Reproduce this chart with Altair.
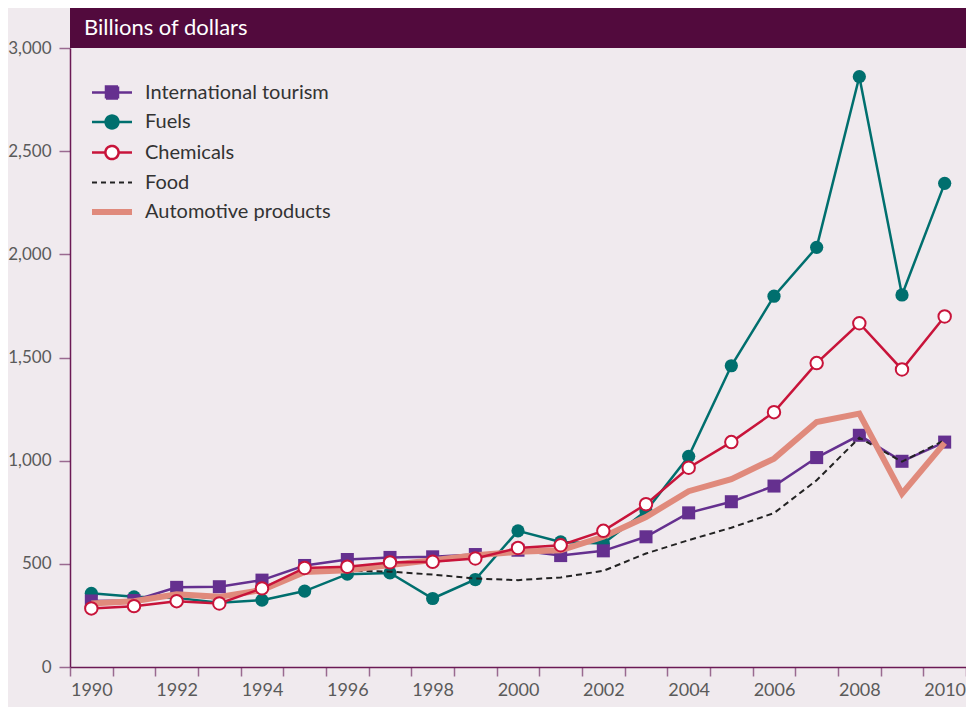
import altair as alt
import pandas as pd

years = list(range(1990, 2011))
series_names = ["International tourism", "Fuels", "Chemicals", "Food", "Automotive products"]

tourism = [320, 322, 386, 389, 421, 492, 521, 531, 534, 545, 566, 540, 563, 631, 747, 801, 877, 1015, 1123, 997, 1090]
fuels = [357, 340, 335, 312, 324, 368, 450, 456, 332, 424, 660, 606, 599, 756, 1021, 1460, 1797, 2034, 2861, 1803, 2344]
chemicals = [284, 295, 319, 308, 381, 480, 486, 507, 510, 526, 577, 590, 660, 789, 966, 1090, 1235, 1473, 1666, 1442, 1699]
food = [310, 315, 350, 330, 385, 455, 468, 462, 448, 429, 421, 434, 466, 550, 615, 675, 746, 905, 1111, 995, 1100]
automotive = [308, 319, 352, 340, 373, 461, 469, 494, 518, 542, 558, 566, 631, 727, 852, 910, 1010, 1187, 1228, 840, 1086]

y_ticks = [0, 500, 1000, 1500, 2000, 2500, 3000]

PURPLE = "#65308f"
TEAL = "#006f6e"
RED = "#c8143a"
FOOD = "#222222"
SALMON = "#e08a7c"
BG = "#f0eaee"
BAR = "#520a3d"
AXIS = "#6b1a55"
TICK = "#9a6a90"

rows = []
for name, vals in zip(series_names, [tourism, fuels, chemicals, food, automotive]):
    for yr, v in zip(years, vals):
        rows.append({"year": yr, "series": name, "value": v})
df = pd.DataFrame(rows)

W, H = 896, 619

x_enc = alt.X(
    "year:O",
    scale=alt.Scale(paddingInner=0, paddingOuter=0),
    axis=alt.Axis(
        title=None, tickBand="extent", labelAngle=0, labelOverlap=False,
        labelExpr="datum.value % 2 == 0 ? datum.label : ''",
        domainColor=AXIS, domainWidth=1.5, tickColor=TICK, tickWidth=1.5, tickSize=9,
        labelFont="Lato", labelFontSize=18, labelColor="#5a5a5a", labelPadding=5,
    ),
)
y_enc = alt.Y(
    "value:Q",
    scale=alt.Scale(domain=[0, 3000], nice=False),
    axis=alt.Axis(
        title=None, values=y_ticks, format=",d", grid=False,
        domainColor=AXIS, domainWidth=1.5, tickColor=TICK, tickWidth=1.5, tickSize=11,
        labelFont="Lato", labelFontSize=17, labelColor="#5a5a5a", labelPadding=8,
    ),
)

base = alt.Chart(df).encode(x=x_enc, y=y_enc)

def sel(name):
    return base.transform_filter(alt.datum.series == name)

teal_line = sel("Fuels").mark_line(color=TEAL, strokeWidth=2.5)
teal_pts = sel("Fuels").mark_circle(color=TEAL, size=175, opacity=1)
purple_line = sel("International tourism").mark_line(color=PURPLE, strokeWidth=2.5)
purple_pts = sel("International tourism").mark_square(color=PURPLE, size=170, opacity=1)
food_line = sel("Food").mark_line(color=FOOD, strokeWidth=2, strokeDash=[6, 4])
auto_line = sel("Automotive products").mark_line(color=SALMON, strokeWidth=6)
red_line = sel("Chemicals").mark_line(color=RED, strokeWidth=2.5)
red_pts = sel("Chemicals").mark_point(shape="circle", filled=True, fill="white", stroke=RED,
                                     strokeWidth=2, size=155, opacity=1)

# legend-only layer (no marks drawn, legend from explicit scale domains)
shapes = [
    "M-2,0H2M-0.6,-0.6H0.6V0.6H-0.6Z",
    "M-2,0H2M0.64,0A0.64,0.64 0 1,1 -0.64,0A0.64,0.64 0 1,1 0.64,0Z",
    "M-2,0H-0.66M0.66,0H2M0.66,0A0.66,0.66 0 1,1 -0.66,0A0.66,0.66 0 1,1 0.66,0Z",
    "M-2,0H2",
    "M-2,0H2",
]
leg = alt.Legend(
    title=None, orient="none", legendX=29, legendY=33, direction="vertical",
    labelFont="Lato", labelFontSize=20, labelColor="#333333", labelOffset=20,
    labelLimit=400, symbolSize=400, symbolOpacity=1, rowPadding=6.5, padding=0,
)
legend_layer = alt.Chart(df).mark_point(filled=True, opacity=1).encode(
    shape=alt.Shape("series:N", scale=alt.Scale(domain=series_names, range=shapes), legend=leg),
    fill=alt.Fill("series:N", scale=alt.Scale(domain=series_names,
                  range=[PURPLE, TEAL, "#ffffff", "transparent", "transparent"]), legend=leg),
    stroke=alt.Stroke("series:N", scale=alt.Scale(domain=series_names,
                      range=[PURPLE, TEAL, RED, FOOD, SALMON]), legend=leg),
    strokeWidth=alt.StrokeWidth("series:N", scale=alt.Scale(type="ordinal", domain=series_names,
                                range=[2.5, 2.5, 2.5, 2, 6]), legend=leg),
    strokeDash=alt.StrokeDash("series:N", scale=alt.Scale(domain=series_names,
                              range=[[1, 0], [1, 0], [1, 0], [5, 4], [1, 0]]), legend=leg),
).transform_filter("false")

one = pd.DataFrame({"t": ["Billions of dollars"]})
bar = alt.Chart(one).mark_rect(color=BAR).encode(
    x=alt.value(0), x2=alt.value(W), y=alt.value(-40), y2=alt.value(0)
)
bar_text = alt.Chart(one).mark_text(
    color="white", font="Lato", fontSize=22, align="left", baseline="middle"
).encode(x=alt.value(14), y=alt.value(-20), text="t:N")

chart = alt.layer(
    bar, bar_text,
    teal_line, teal_pts, purple_line, purple_pts, food_line, auto_line, red_line, red_pts,
    legend_layer,
).properties(
    width=W, height=H,
    autosize=alt.AutoSizeParams(type="none"),
    padding={"left": 62, "top": 40, "right": 0, "bottom": 40},
    background=BG,
).configure_view(stroke=None)

chart.save("out.html", embed_options={"renderer": "svg", "actions": False})
